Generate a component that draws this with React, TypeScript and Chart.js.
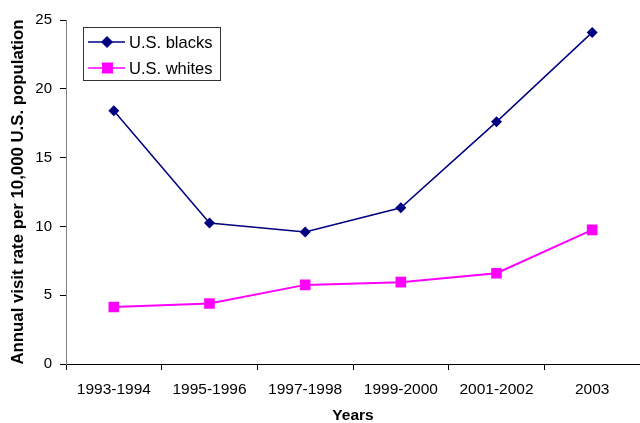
import React, { useEffect, useRef } from "react";
import { Chart, registerables } from "chart.js";

Chart.register(...registerables);

const categories = ["1993-1994", "1995-1996", "1997-1998", "1999-2000", "2001-2002", "2003"];
const blacks = [18.4, 10.25, 9.6, 11.35, 17.6, 24.1];
const whites = [4.14, 4.4, 5.75, 5.95, 6.6, 9.75];
const seriesNames = ["U.S. blacks", "U.S. whites"];
const yTitle = "Annual visit rate per 10,000 U.S. population";
const xTitle = "Years";

const FONT = "'Liberation Sans', Arial, sans-serif";

const legendPlugin = {
  id: "boxLegend",
  afterDraw(chart: any) {
    const ctx = chart.ctx;
    const x = 83, y = 27, w = 137, h = 53;
    ctx.save();
    ctx.fillStyle = "#ffffff";
    ctx.fillRect(x, y, w, h);
    ctx.strokeStyle = "#333333";
    ctx.lineWidth = 1;
    ctx.strokeRect(x + 0.5, y + 0.5, w, h);
    const rows = [
      { name: seriesNames[0], color: "#000080", style: "rectRot" },
      { name: seriesNames[1], color: "#FF00FF", style: "rect" },
    ];
    rows.forEach((r, i) => {
      const cy = y + 15 + i * 26;
      ctx.strokeStyle = r.color;
      ctx.lineWidth = 1.5;
      ctx.beginPath();
      ctx.moveTo(x + 5, cy);
      ctx.lineTo(x + 42, cy);
      ctx.stroke();
      ctx.fillStyle = r.color;
      if (r.style === "rectRot") {
        ctx.beginPath();
        ctx.moveTo(x + 24, cy - 6);
        ctx.lineTo(x + 30, cy);
        ctx.lineTo(x + 24, cy + 6);
        ctx.lineTo(x + 18, cy);
        ctx.closePath();
        ctx.fill();
      } else {
        ctx.fillRect(x + 19, cy - 5.5, 11, 11);
      }
      ctx.fillStyle = "#000000";
      ctx.font = `16.5px ${FONT}`;
      ctx.textBaseline = "middle";
      ctx.textAlign = "left";
      ctx.fillText(r.name, x + 46, cy + 1);
    });
    ctx.restore();
  },
};

export default function App() {
  const ref = useRef<HTMLCanvasElement>(null);
  useEffect(() => {
    document.body.style.margin = "0";
    const chart = new Chart(ref.current!, {
      type: "line",
      data: {
        labels: categories,
        datasets: [
          {
            label: seriesNames[0],
            data: blacks,
            borderColor: "#000080",
            backgroundColor: "#000080",
            borderWidth: 1.5,
            pointStyle: "rectRot",
            pointRadius: 5.5,
            pointBorderWidth: 0,
            tension: 0,
          },
          {
            label: seriesNames[1],
            data: whites,
            borderColor: "#FF00FF",
            backgroundColor: "#FF00FF",
            borderWidth: 2,
            pointStyle: "rect",
            pointRadius: 7.5,
            pointBorderWidth: 0,
            tension: 0,
          },
        ],
      },
      options: {
        animation: false,
        responsive: false,
        layout: { autoPadding: false, padding: { top: 20, right: 0, bottom: 0, left: 0 } },
        plugins: {
          legend: { display: false },
          tooltip: { enabled: false },
        },
        scales: {
          x: {
            offset: true,
            afterFit: (scale: any) => {
              scale.height = 59;
              scale.paddingLeft = 0;
              scale.paddingRight = 0;
            },
            grid: {
              offset: true,
              drawOnChartArea: false,
              tickLength: 6,
              color: "#000000",
            },
            border: { color: "#000000", width: 1 },
            ticks: { color: "#000000", font: { family: FONT, size: 15.5 }, padding: 10, maxRotation: 0 },
            title: {
              display: true,
              text: xTitle,
              color: "#000000",
              font: { family: FONT, size: 15.5, weight: "bold", lineHeight: 1 },
              padding: { top: 0, bottom: 0 },
            },
          },
          y: {
            min: 0,
            max: 25,
            afterFit: (scale: any) => {
              scale.width = 66;
            },
            ticks: { stepSize: 5, color: "#000000", font: { family: FONT, size: 15 }, padding: 8 },
            grid: { drawOnChartArea: false, tickLength: 6, color: "#000000" },
            border: { color: "#808080", width: 1 },
            title: {
              display: true,
              text: yTitle,
              color: "#000000",
              font: { family: FONT, size: 16.8, weight: "bold", lineHeight: 1.2 },
              padding: { top: 8, bottom: 0 },
            },
          },
        },
      },
      plugins: [legendPlugin],
    });
    return () => chart.destroy();
  }, []);
  return <canvas ref={ref} width={640} height={423} style={{ display: "block", width: 640, height: 423 }} />;
}
